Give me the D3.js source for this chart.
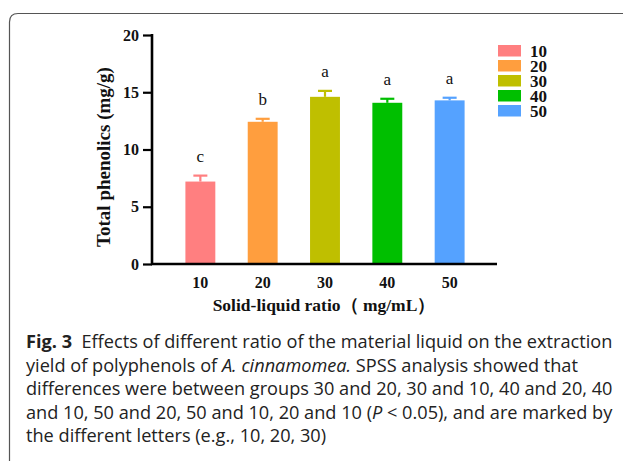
<!DOCTYPE html>
<html>
<head>
<meta charset="utf-8">
<script src="https://cdn.jsdelivr.net/npm/d3@7"></script>
<style>
  html, body { margin: 0; padding: 0; background: #fff; }
  svg { display: block; }
</style>
</head>
<body>
<svg id="chart" width="623" height="461"></svg>
<script>
// Solid-liquid ratio groups (mg/mL)
const categories = ["10", "20", "30", "40", "50"];
// Total phenolics (mg/g), mean and SD
const means = [7.2, 12.42, 14.6, 14.08, 14.29];
const errors = [0.52, 0.26, 0.52, 0.35, 0.23];
// Significance letters
const letters = ["c", "b", "a", "a", "a"];
const colors = ["#FF7F80", "#FF9E3E", "#BFBF00", "#00BF00", "#55A2FF"];
const yTicks = [0, 5, 10, 15, 20];

const captionLines = [
  [{t: "Fig. 3", b: true}, {t: "  Effects of different ratio of the material liquid on the extraction"}],
  [{t: "yield of polyphenols of "}, {t: "A. cinnamomea.", i: true}, {t: " SPSS analysis showed that"}],
  [{t: "differences were between groups 30 and 20, 30 and 10, 40 and 20, 40"}],
  [{t: "and 10, 50 and 20, 50 and 10, 20 and 10 ("}, {t: "P", i: true}, {t: " < 0.05), and are marked by"}],
  [{t: "the different letters (e.g., 10, 20, 30)"}]
];

const svg = d3.select("#chart");
const serif = "'Liberation Serif', 'Times New Roman', serif";
const sans = "'Open Sans', 'Noto Sans', sans-serif";

// Panel frame with rounded top-left corner
svg.append("path")
  .attr("d", "M9.5,470 L9.5,22 Q9.5,13.5 18,13.5 L640,13.5")
  .attr("fill", "none").attr("stroke", "#555").attr("stroke-width", 1.2);

const x = d3.scaleBand().domain(categories).range([153, 497])
  .paddingInner(0.52).paddingOuter(0.52);
const y = d3.scaleLinear().domain([0, 20]).range([264, 35]);

const g = svg.append("g");

// Bars
g.selectAll("rect.bar").data(categories).join("rect")
  .attr("class", "bar")
  .attr("x", d => x(d))
  .attr("width", x.bandwidth())
  .attr("y", (d, i) => y(means[i]))
  .attr("height", (d, i) => y(0) - y(means[i]))
  .attr("fill", (d, i) => colors[i]);

// Upper error bars
const eb = g.selectAll("g.err").data(categories).join("g").attr("class", "err");
eb.append("line")
  .attr("x1", d => x(d) + x.bandwidth() / 2).attr("x2", d => x(d) + x.bandwidth() / 2)
  .attr("y1", (d, i) => y(means[i])).attr("y2", (d, i) => y(means[i] + errors[i]))
  .attr("stroke", (d, i) => colors[i]).attr("stroke-width", 2.2);
eb.append("line")
  .attr("x1", d => x(d) + x.bandwidth() / 2 - 7).attr("x2", d => x(d) + x.bandwidth() / 2 + 7)
  .attr("y1", (d, i) => y(means[i] + errors[i])).attr("y2", (d, i) => y(means[i] + errors[i]))
  .attr("stroke", (d, i) => colors[i]).attr("stroke-width", 2.2);

// Significance letters
g.selectAll("text.sig").data(categories).join("text")
  .attr("class", "sig")
  .attr("x", d => x(d) + x.bandwidth() / 2)
  .attr("y", (d, i) => y(means[i] + errors[i]) - 14)
  .attr("text-anchor", "middle")
  .attr("font-family", serif).attr("font-size", 17)
  .attr("fill", "#111")
  .text((d, i) => letters[i]);

// Y axis
const yAxis = g.append("g").attr("transform", "translate(152,0)")
  .call(d3.axisLeft(y).tickValues(yTicks).tickSize(9).tickPadding(4).tickSizeOuter(0));
yAxis.select(".domain").attr("stroke", "#000").attr("stroke-width", 2.6)
  .attr("d", `M0,${y(20) - 1}V${y(0)}`);
yAxis.selectAll(".tick line").attr("stroke", "#000").attr("stroke-width", 2.2);
yAxis.selectAll(".tick text").attr("font-family", serif).attr("font-weight", "bold")
  .attr("font-size", 16).attr("fill", "#111");

// X axis
const xAxis = g.append("g").attr("transform", `translate(0,${y(0)})`)
  .call(d3.axisBottom(x).tickSize(0).tickPadding(13));
xAxis.select(".domain").attr("stroke", "#000").attr("stroke-width", 2.6)
  .attr("d", "M151,0H497");
xAxis.selectAll(".tick text").attr("font-family", serif).attr("font-weight", "bold")
  .attr("font-size", 16).attr("fill", "#111");

// Axis titles
svg.append("text")
  .attr("transform", "translate(110,157) rotate(-90)")
  .attr("text-anchor", "middle")
  .attr("font-family", serif).attr("font-weight", "bold").attr("font-size", 19)
  .attr("fill", "#111")
  .text("Total phenolics (mg/g)");
svg.append("text")
  .attr("x", 324).attr("y", 311)
  .attr("text-anchor", "middle")
  .attr("font-family", serif).attr("font-weight", "bold").attr("font-size", 17.5)
  .attr("fill", "#111")
  .text("Solid-liquid ratio（ mg/mL）");

// Legend
const leg = svg.append("g").selectAll("g").data(categories).join("g")
  .attr("transform", (d, i) => `translate(498,${45 + i * 15})`);
leg.append("rect").attr("width", 23).attr("height", 11.5)
  .attr("fill", (d, i) => colors[i]);
leg.append("text").attr("x", 32).attr("y", 11.5)
  .attr("font-family", serif).attr("font-weight", "bold").attr("font-size", 17)
  .attr("fill", "#111")
  .text(d => d);

// Caption
const cap = svg.append("g");
captionLines.forEach((line, li) => {
  const t = cap.append("text")
    .attr("x", 26).attr("y", 348 + li * 23.5)
    .attr("font-family", sans).attr("font-size", 17)
    .attr("fill", "#222")
    .attr("xml:space", "preserve").style("white-space", "pre");
  line.forEach(s => {
    t.append("tspan").text(s.t)
      .attr("font-weight", s.b ? "bold" : null)
      .attr("font-style", s.i ? "italic" : null);
  });
});
// Fit first caption line to the panel width
const first = cap.select("text").node();
const w = first.getComputedTextLength();
const size = 17 * 587 / w;
cap.selectAll("text").attr("font-size", size);
</script>
</body>
</html>
